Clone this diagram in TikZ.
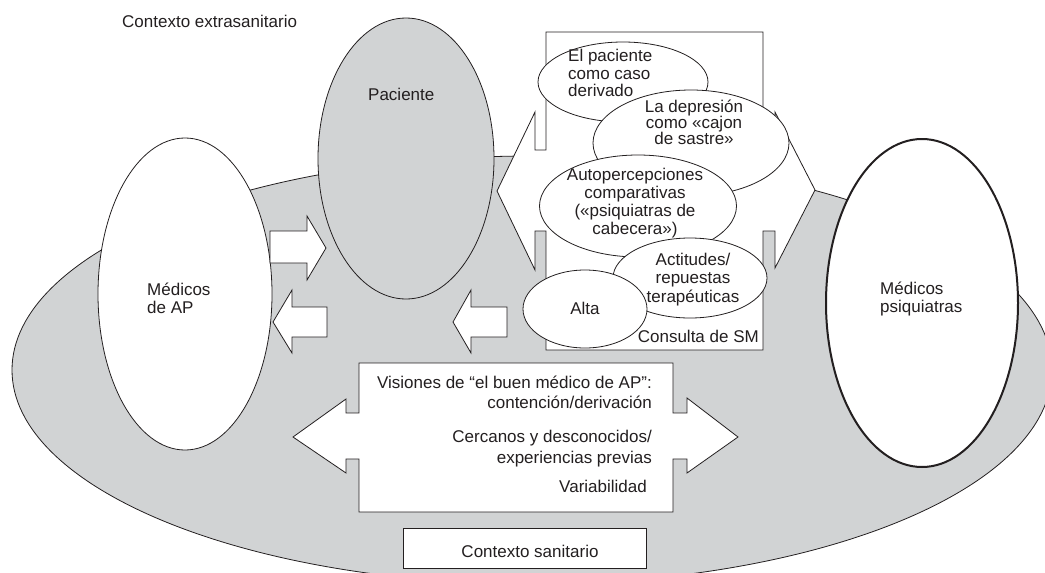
\documentclass[tikz,border=0pt]{standalone}
\usepackage{fontspec}
\setmainfont{Liberation Sans}
\usetikzlibrary{shapes.geometric}
\definecolor{grayfill}{RGB}{209,211,212}
\definecolor{ink}{RGB}{35,31,32}
\newcommand\mytight{\lineskiplimit=-100pt\relax}
\newcommand\myfont[1]{\fontsize{17}{#1}\selectfont\mytight}
\tikzset{
  txt/.style={font={\myfont{18}}, text=ink, inner sep=0pt},
  ell/.style={ellipse, draw=ink, line width=0.8pt, inner sep=0pt},
  blockshape/.style={draw=ink, fill=white, line width=0.8pt, line join=miter},
}
\begin{document}
\begin{tikzpicture}[x=1pt,y=-1pt]
\useasboundingbox (0,0) rectangle (1045,573);
\clip (0,0) rectangle (1045,573);
% outer context
\node[ell, fill=grayfill, minimum width=1040pt, minimum height=428pt] (ctx) at (532,370) {};
% actors
\node[ell, fill=white, minimum width=174pt, minimum height=312pt] (ap) at (185,294) {};
\node[ell, fill=grayfill, minimum width=176pt, minimum height=281pt] (pac) at (406,158.5) {};
\node[ell, fill=white, line width=2pt, minimum width=192pt, minimum height=328pt] (psq) at (922,303) {};
% consulta de SM box with double arrow
\draw[blockshape] (546,32) -- (763,32) -- (763,150) -- (775,150) -- (775,112) -- (815,190)
  -- (775,268) -- (775,231) -- (763,231) -- (763,350) -- (546,350) -- (546,231) -- (535,231)
  -- (535,270) -- (497,191) -- (535,112) -- (535,150) -- (546,150) -- cycle;
\node[ell, fill=white, minimum width=170pt, minimum height=80pt] (caso) at (623,82) {};
\node[ell, fill=white, minimum width=196pt, minimum height=106pt] (dep) at (691,143) {};
\node[ell, fill=white, minimum width=197pt, minimum height=102pt] (auto) at (638,206) {};
\node[ell, fill=white, minimum width=154pt, minimum height=80pt] (act) at (690,278) {};
\node[ell, fill=white, minimum width=124pt, minimum height=78pt] (alta) at (585,309) {};
% small block arrows
\draw[blockshape] (270,231) -- (307,231) -- (307,216) -- (326,248) -- (307,280) -- (307,263) -- (270,263) -- cycle;
\draw[blockshape] (273,322) -- (292,290) -- (292,307) -- (327,307) -- (327,337) -- (292,337) -- (292,353) -- cycle;
\draw[blockshape] (453,322) -- (471,290) -- (471,307) -- (507,307) -- (507,337) -- (471,337) -- (471,353) -- cycle;
% visiones double arrow
\draw[blockshape] (359,363) -- (673,363) -- (673,413) -- (687,413) -- (687,398) -- (738,437)
  -- (687,473) -- (687,459) -- (673,459) -- (673,512) -- (359,512) -- (359,459) -- (346,459)
  -- (346,473) -- (293,437) -- (346,399) -- (346,413) -- (359,413) -- cycle;
% contexto sanitario box
\node[draw=ink, fill=white, line width=0.8pt, minimum width=243pt, minimum height=40pt, inner sep=0pt] (sanbox) at (524.5,548) {};
% texts (base anchor of a multi-line node = baseline of its last line)
\node[txt, anchor=base west] (tctx) at (122,27) {Contexto extrasanitario};
\node[txt, anchor=base west] (tpac) at (368,100) {Paciente};
\node[txt, anchor=base west, align=left] (tap) at (147,313) {Médicos\\de AP};
\node[txt, anchor=base west, align=left] (tpsq) at (880,312) {Médicos\\psiquiatras};
\node[txt, anchor=base west, align=left, font={\myfont{17.5}}] (tcaso) at (568,96.7) {El paciente\\como caso\\derivado};
\node[txt, anchor=base, align=center, font={\myfont{16}}] (tdep) at (694,144.6) {La depresión\\como «cajon\\de sastre»};
\node[txt, anchor=base, align=center] (tauto) at (635,234) {Autopercepciones\\comparativas\\(«psiquiatras de\\cabecera»)};
\node[txt, anchor=base, align=center, font={\myfont{18.5}}] (tact) at (693,302) {Actitudes/\\repuestas\\terapéuticas};
\node[txt, anchor=base] (talta) at (585,314) {Alta};
\node[txt, anchor=base east] (tsm) at (759,342) {Consulta de SM};
\node[txt, anchor=base east, align=right, font={\myfont{20.5}}] (tvis) at (652,492)
  {Visiones de “el buen médico de AP”:\\contención/derivación\hspace*{10pt}\\[13.5pt]Cercanos y desconocidos/\hspace*{2pt}\\experiencias previas\hspace*{2pt}\\[8.5pt]Variabilidad\hspace*{5pt}};
\node[txt, anchor=base] (tsan) at (530,557) {Contexto sanitario};
\end{tikzpicture}
\end{document}
